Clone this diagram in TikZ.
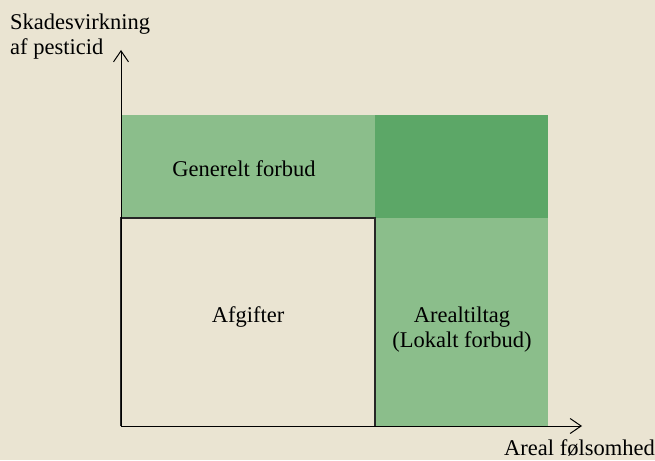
\documentclass[tikz,border=0pt]{standalone}
\usepackage{fontspec}
\setmainfont{Liberation Serif}
\usetikzlibrary{arrows.meta}
\definecolor{bg}{HTML}{EAE4D2}
\definecolor{lightgreen}{HTML}{8BBE8B}
\definecolor{darkgreen}{HTML}{5CA767}
\tikzset{
  lbl/.style={font=\fontsize{22.5}{25}\selectfont, text=black, inner sep=0pt, align=center},
  axis/.style={draw=black, line width=1pt, -{Straight Barb[length=11pt,width=15pt]}},
}
\begin{document}
\begin{tikzpicture}[x=1pt,y=-1pt]
  \fill[bg] (0,0) rectangle (655,460);
  \useasboundingbox (0,0) rectangle (655,460);
  % zones
  \fill[lightgreen] (121,115) rectangle (375,218);
  \fill[darkgreen] (375,115) rectangle (548,218);
  \fill[lightgreen] (375,218) rectangle (548,426);
  \draw[line width=1.3pt, draw=black!85] (121,426) -- (121,218) -- (375,218) -- (375,426);
  % axes
  \coordinate (o) at (121,426);
  \coordinate (ytip) at (121,50);
  \coordinate (xtip) at (582,426);
  \draw[axis] (o) -- (ytip);
  \draw[axis] (o) -- (xtip);
  % labels
  \node[lbl, anchor=base] (gen) at (244,176) {Generelt forbud};
  \node[lbl, anchor=base] (afg) at (248,322) {Afgifter};
  \node[lbl, anchor=base] (are) at (462,322) {Arealtiltag};
  \node[lbl, anchor=base] (lok) at (462,347) {(Lokalt forbud)};
  \node[lbl, anchor=base west] (ys1) at (10,30) {Skadesvirkning};
  \node[lbl, anchor=base west] (ys2) at (10,55) {af pesticid};
  \node[lbl, anchor=base east] (xl) at (655,455) {Areal følsomhed};
\end{tikzpicture}
\end{document}
